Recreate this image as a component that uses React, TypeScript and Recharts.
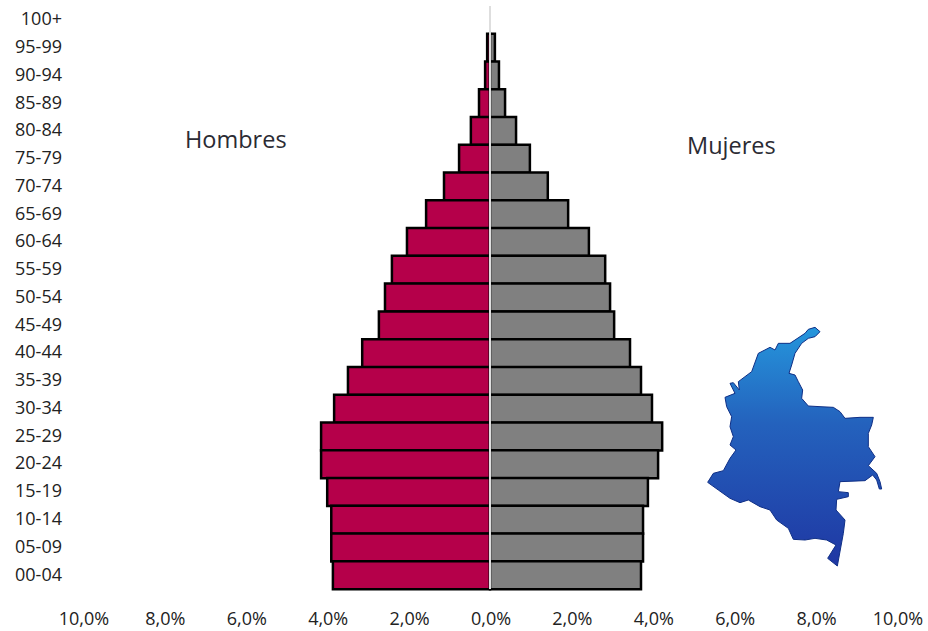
import React from 'react'
import { Bar, BarChart, ReferenceLine, XAxis, YAxis } from 'recharts'

const ageGroups = ['100+', '95-99', '90-94', '85-89', '80-84', '75-79', '70-74', '65-69', '60-64', '55-59', '50-54', '45-49', '40-44', '35-39', '30-34', '25-29', '20-24', '15-19', '10-14', '05-09', '00-04']
const hombres = [0, 0.07, 0.12, 0.27, 0.47, 0.76, 1.13, 1.57, 2.04, 2.41, 2.58, 2.73, 3.14, 3.49, 3.83, 4.15, 4.15, 4.0, 3.9, 3.9, 3.86]
const mujeres = [0, 0.12, 0.22, 0.37, 0.64, 0.98, 1.42, 1.92, 2.43, 2.83, 2.95, 3.05, 3.44, 3.71, 3.98, 4.23, 4.13, 3.88, 3.76, 3.76, 3.71]
const xTicks = [-10, -8, -6, -4, -2, 0, 2, 4, 6, 8, 10]

// outline of the map inset (viewBox units)
const mapOutline = '420,65 405,80 385,85 365,100 345,130 335,165 327,190 345,195 355,215 368,240 365,265 385,288 420,290 460,292 480,305 495,325 540,322 580,322 575,345 565,370 565,410 585,440 565,467 590,490 600,515 605,537 598,537 590,510 578,495 555,512 480,515 475,545 505,548 505,560 470,568 468,600 495,630 490,670 472,768 443,745 468,705 440,690 405,685 375,690 340,688 325,655 290,630 270,600 240,590 205,570 180,578 150,565 115,540 83,517 100,490 130,482 150,445 168,420 150,405 160,380 150,350 155,320 140,290 135,262 165,250 150,220 160,218 178,240 175,215 215,185 235,130 270,112 285,120 295,100 330,100 375,70 385,58 405,52'

const data = ageGroups.map((age, i) => ({ age, hombres: -hombres[i], mujeres: mujeres[i] }))

const font = '"Open Sans", sans-serif'
const xTickStyle = { fontFamily: font, fontSize: 18, fill: '#222', dx: 1 }
const yTickStyle = { fontFamily: font, fontSize: 18, fill: '#222', dy: -1 }

const formatTick = (v: number) => Math.abs(v).toFixed(1).replace('.', ',') + '%'

const labelStyle: React.CSSProperties = {
  position: 'absolute',
  fontFamily: font,
  fontSize: 23.5,
  color: '#2b2b33',
  lineHeight: '30px',
}

const App = () => {
  return (
    <div style={{ position: 'absolute', left: 0, top: 0, width: 928, height: 631, background: '#fff', overflow: 'hidden' }}>
      <BarChart
        width={928}
        height={631}
        data={data}
        layout="vertical"
        stackOffset="sign"
        barCategoryGap={0}
        margin={{ top: 6, right: 31, bottom: 0, left: 0 }}
      >
        <XAxis
          type="number"
          domain={[-10, 10]}
          ticks={xTicks}
          tickFormatter={formatTick}
          axisLine={false}
          tickLine={false}
          tickMargin={17}
          height={42}
          tick={xTickStyle}
          interval={0}
        />
        <YAxis
          type="category"
          dataKey="age"
          width={83}
          axisLine={false}
          tickLine={false}
          tickMargin={15}
          tick={yTickStyle}
          interval={0}
        />
        <Bar dataKey="hombres" stackId="p" fill="#b5004a" stroke="#000" strokeWidth={2.5} isAnimationActive={false} />
        <Bar dataKey="mujeres" stackId="p" fill="#808080" stroke="#000" strokeWidth={2.5} isAnimationActive={false} />
        <ReferenceLine x={0} stroke="#dedede" strokeWidth={2} />
      </BarChart>
      <div style={{ ...labelStyle, left: 185, top: 124 }}>Hombres</div>
      <div style={{ ...labelStyle, left: 687, top: 130 }}>Mujeres</div>
      <svg width={230} height={270} viewBox="0 0 690 810" style={{ position: 'absolute', left: 680, top: 310 }}>
        <defs>
          <linearGradient id="mapFill" x1="0" y1="0" x2="0" y2="1">
            <stop offset="0%" stopColor="#2596dc" />
            <stop offset="40%" stopColor="#2462bd" />
            <stop offset="100%" stopColor="#1f37a3" />
          </linearGradient>
        </defs>
        <polygon points={mapOutline} fill="url(#mapFill)" stroke="#0f2f86" strokeWidth={3} strokeLinejoin="round" />
      </svg>
    </div>
  )
}

export default App
